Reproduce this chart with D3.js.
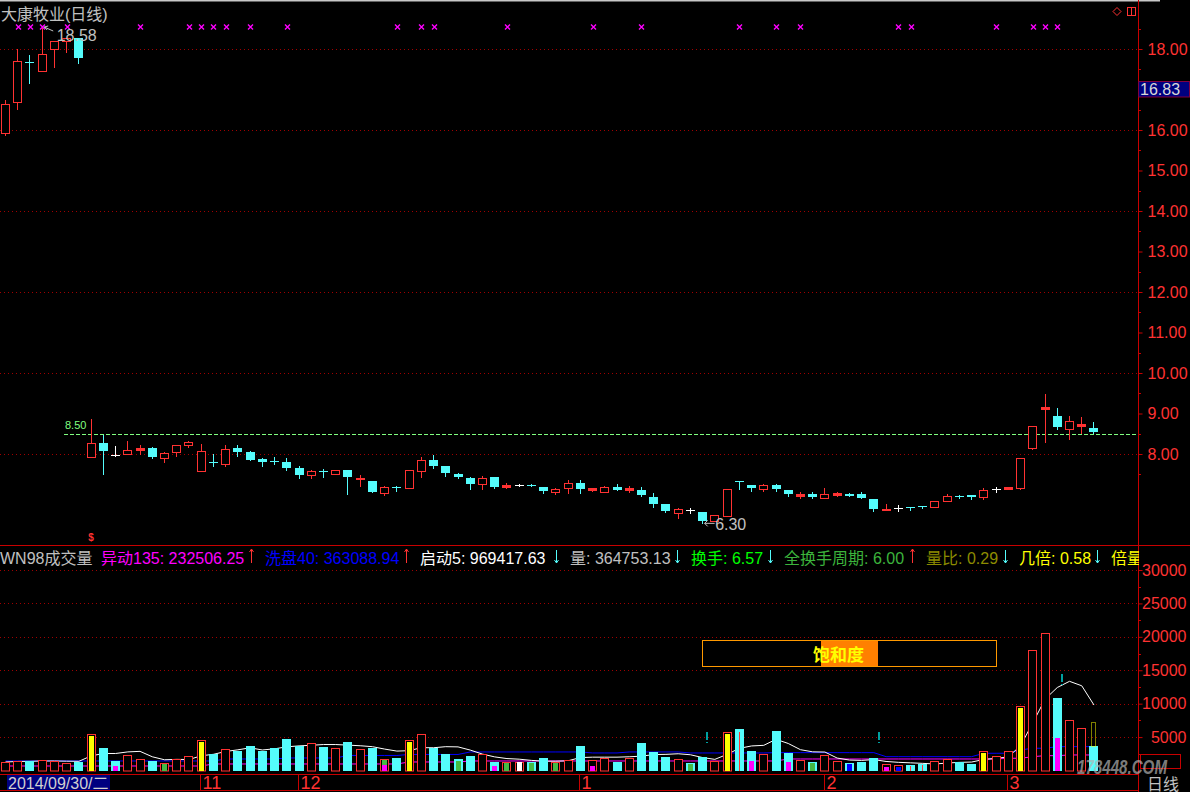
<!DOCTYPE html>
<html><head><meta charset="utf-8">
<script src="https://cdn.jsdelivr.net/npm/d3@7"></script>
<style>
html,body{margin:0;padding:0;background:#000;}
svg{display:block;}
text{font-family:"Liberation Sans",Arial,"Noto Sans CJK SC",sans-serif;}
</style></head><body>
<svg id="c" width="1190" height="792"></svg>
<script>
// ---------- data ----------
const opens = [15.93,16.68,17.67,17.46,17.99,18.19,18.26,7.93,8.27,7.98, 8.00,8.09,8.15,7.91,8.06,8.21,7.59,7.80,7.76,8.14, 8.05,7.87,7.82,7.80,7.65,7.47,7.57,7.51,7.60,7.38, 7.33,7.04,7.18,7.17,7.59,7.84,7.70,7.51,7.41,7.25, 7.42,7.19,7.23,7.24,7.18,7.07,7.17,7.28,7.11,7.07, 7.18,7.10,7.11,6.94,6.77,6.55,6.61,6.57,6.34,6.48, 7.33,7.23,7.13,7.23,7.10,6.97,7.01,6.92,6.98,7.01, 7.01,6.89,6.62,6.67,6.69,6.72,6.68,6.83,6.97,6.98, 6.93,7.13,7.14,7.17,8.16,9.10,8.94,8.62,8.68,8.64];
const highs = [16.75,17.99,17.85,18.58,18.19,18.26,18.26,8.86,8.48,8.20, 8.32,8.22,8.17,8.06,8.22,8.33,8.25,8.00,8.22,8.22, 8.07,7.90,7.93,7.90,7.70,7.61,7.63,7.60,7.60,7.48, 7.33,7.22,7.22,7.60,7.92,7.97,7.70,7.53,7.44,7.45, 7.42,7.29,7.26,7.26,7.18,7.16,7.36,7.36,7.16,7.21, 7.26,7.20,7.18,7.04,6.77,6.67,6.66,6.57,6.49,7.13, 7.33,7.23,7.26,7.26,7.10,7.06,7.06,7.16,7.06,7.04, 7.06,6.89,6.77,6.73,6.69,6.72,6.83,7.02,7.00,6.98, 7.16,7.19,7.19,7.89,8.68,9.48,9.14,8.94,8.91,8.79];
const lows = [15.88,16.51,17.15,17.46,17.56,17.93,17.66,7.92,7.51,7.96, 8.00,8.00,7.90,7.80,7.96,8.18,7.59,7.71,7.71,7.96, 7.85,7.71,7.76,7.60,7.41,7.41,7.44,7.51,7.01,7.21, 7.06,6.99,7.09,7.17,7.44,7.66,7.46,7.41,7.14,7.14, 7.17,7.17,7.20,7.20,7.04,7.02,7.04,7.04,7.08,7.07, 7.11,7.07,6.96,6.69,6.57,6.43,6.55,6.30,6.34,6.48, 7.14,7.09,7.09,7.08,6.97,6.92,6.92,6.92,6.96,6.97, 6.92,6.60,6.62,6.60,6.62,6.67,6.68,6.83,6.92,6.89, 6.89,7.07,7.14,7.14,8.13,8.30,8.62,8.37,8.52,8.51];
const closes = [16.63,17.70,17.66,17.88,18.19,18.26,17.79,8.26,8.08,7.98, 8.09,8.14,7.93,8.02,8.22,8.30,8.07,7.79,8.12,8.06, 7.85,7.80,7.81,7.65,7.48,7.57,7.56,7.60,7.44,7.40, 7.06,7.19,7.17,7.60,7.84,7.71,7.54,7.43,7.27,7.40, 7.19,7.24,7.23,7.23,7.09,7.14,7.28,7.14,7.16,7.18, 7.11,7.16,7.00,6.77,6.60,6.64,6.61,6.35,6.49,7.13, 7.30,7.17,7.23,7.13,7.02,7.02,6.95,7.01,7.04,6.97, 6.92,6.65,6.65,6.67,6.67,6.70,6.83,6.96,6.96,6.94, 7.11,7.13,7.19,7.89,8.68,9.15,8.67,8.81,8.74,8.54];
const volumes = [1275,1425,1425,1575,1425,1125,1320,5475,3375,1425, 2325,1725,1425,1125,1725,2175,4575,2520,3225,2970, 3675,2970,3375,4725,3675,4125,3525,3375,4275,3225, 3420,1725,1875,4575,5475,3375,2520,1725,2175,2475, 1275,1275,1275,1275,1875,1275,1575,3675,1575,1875, 1275,1875,4125,2775,2025,1725,1125,2025,1425,5775, 6225,2925,2475,5925,2670,1575,1320,2325,1425,1170, 1320,1920,930,780,780,930,1425,1680,1275,1020, 2880,2175,2880,9675,18075,20580,10875,7515,6330,3675];
// r = red hollow, c = cyan, y = yellow (red frame)
const volKinds = ['r','r','c','r','r','r','c','y','c','c', 'r','r','c','r','r','r','y','c','r','c', 'c','c','c','c','c','r','c','r','c','r', 'c','r','c','y','r','c','c','c','c','r', 'c','r','r','c','c','r','r','c','r','r', 'c','r','c','c','c','r','c','c','r','y', 'c','c','r','c','c','r','c','r','r','c', 'c','c','r','r','c','c','r','r','c','c', 'y','r','r','y','r','r','c','r','r','c'];
// inner sub-volume marks: [index, kind, value]  m=magenta g=green b=blue w=white l=red line
const innerMarks = [[9,'m',675],[13,'g',975],[31,'g',1575],[31,'m',825],[37,'g',1425],[40,'m',675],[41,'g',1075],[42,'w',1200],[43,'g',1075],[45,'g',1075],[48,'m',675],[56,'g',975],[60,'l',5775],[61,'m',1425],[64,'m',1320],[66,'g',1170],[69,'b',930],[72,'m',570],[73,'b',570],[74,'l',720],[75,'l',870],[86,'m',4875]];
const maStart5 = [1275,1350,1375,1425,1425,1395,1374,2184,2544,2544, 2784,2865,2055,1605,1665,1635,2205,2424,2844,3093, 3393,3072,3243,3543,3684,3774,3885,3885,3795,3705, 3564,3204,2904,2964,3414,3405,3564,3534,3054,2454, 2034,1785,1695,1515,1395,1395,1455,1935,1995,1995, 1995,2055,2145,2385,2415,2505,2355,1935,1665,2415, 3315,3675,3765,4665,4044,3114,2793,2763,1863,1563, 1512,1632,1353,1224,1146,1068,969,1119,1218,1266, 1656,1806,2046,3726,7137,10677,12417,13344,12675,9795];
const maWash40 = [1425,1425,1425,1425,1425,1425,1425,1425,1425,1425, 1425,1425,1425,1425,1425,1425,1425,1425,1725,1725, 1725,1725,1725,1875,1875,1875,1875,1875,2250,2250, 2250,2250,2250,2400,2400,2400,2400,2400,2775,2775, 2775,2775,2775,2775,2775,2775,2775,2775,2625,2625, 2625,2775,2775,2775,2775,2775,2625,2625,2625,2625, 2625,2625,2625,2670,2670,2670,2670,2670,2670,2670, 2670,2670,2070,2070,2070,2070,2070,2070,2070,2070, 2580,2580,2580,3075,3330,3330,3570,3570,3570,3570];
const maMove135 = [675,675,675,675,675,675,675,675,675,675, 675,675,675,675,675,675,675,975,975,975, 975,975,975,975,975,975,975,975,975,975, 975,975,975,1275,1275,1275,1275,1275,1425,1425, 1425,1425,1425,1425,1425,1425,1425,1425,1425,1425, 1425,1425,1425,1425,1425,1425,1425,1425,1425,1425, 1425,1425,1425,1425,1725,1725,1725,1725,1725,1725, 1725,1725,1725,1725,1725,1725,1725,1725,1725,1725, 1725,1725,1830,1830,2070,2220,2220,2325,2325,2325];
const signalIdx = [1,2,3,5,11,15,16,17,18,20,23,32,34,35,41,48,52,60,63,65,73,74,81,84,85,86];
const priceTicks = [8,9,10,11,12,13,14,15,16,18];
const priceGrid = [8,10,12,14,16,18];
const volTicks = [5000,10000,15000,20000,25000,30000];
const monthStart = [16,24,47,67,82];
const monthLabel = ['11','12','1','2','3'];
const tealMarks = [[57.3,5800],[71.3,5700],[86.3,14500]];
const legendItems = [
  {t:'WN98成交量', c:'#c0c0c0', x:0, a:null},
  {t:'异动135: 232506.25', c:'#ff00ff', x:101, a:'up'},
  {t:'洗盘40: 363088.94', c:'#0000ff', x:265, a:'up'},
  {t:'启动5: 969417.63', c:'#ffffff', x:420, a:'down'},
  {t:'量: 364753.13', c:'#c0c0c0', x:570, a:'down'},
  {t:'换手: 6.57', c:'#00ff00', x:691, a:'down'},
  {t:'全换手周期: 6.00', c:'#3cb43c', x:784, a:'up'},
  {t:'量比: 0.29', c:'#8c8c00', x:926, a:'down'},
  {t:'几倍: 0.58', c:'#ffff00', x:1019, a:'down'},
  {t:'倍量', c:'#ffff00', x:1111, a:null}
];

// ---------- setup ----------
const RED='#ff3232', CYAN='#54fcfc', AXR='#c80000', GRID='#a00000';
const svg = d3.select('#c');
svg.append('rect').attr('width',1190).attr('height',792).attr('fill','#000');
svg.append('rect').attr('x',0).attr('y',0).attr('width',1160).attr('height',1.5).attr('fill','#c8c8c8');

const n = opens.length;
const x = d3.scaleBand().domain(d3.range(n)).range([-0.6, -0.6 + 12.23*n]);
const cx = i => x(i) + x.bandwidth()/2;
const lft = i => Math.round(cx(i) - 4.5);
const y = d3.scaleLinear().domain([8,18]).range([454,49]);
const yv = d3.scaleLinear().domain([0,30000]).range([770.5,570]);

// ---------- price panel ----------
svg.append('g').selectAll('line').data(priceGrid).join('line')
  .attr('x1',0).attr('x2',1138).attr('y1',d=>Math.round(y(d))+0.5).attr('y2',d=>Math.round(y(d))+0.5)
  .attr('stroke',GRID).attr('stroke-dasharray','1,3');

// 8.50 reference
svg.append('line').attr('x1',64).attr('x2',1138).attr('y1',Math.round(y(8.5))+0.5).attr('y2',Math.round(y(8.5))+0.5)
  .attr('stroke','#80ff80').attr('stroke-dasharray','4,2');
svg.append('text').attr('x',65).attr('y',429).attr('fill','#80ff80').attr('font-size',11).text('8.50');

// candles
const cg = svg.append('g');
cg.selectAll('g').data(d3.range(n)).join('g').each(function(i){
  const g = d3.select(this);
  const o=opens[i], c=closes[i], h=highs[i], l=lows[i];
  const L = lft(i), wx = L+4.5;
  const yo=Math.round(y(o)), yc=Math.round(y(c)), yh=Math.round(y(h)), yl=Math.round(y(l));
  if (c>o){
    const top=yc, bot=yo;
    g.append('line').attr('x1',wx).attr('x2',wx).attr('y1',yh).attr('y2',top).attr('stroke',RED);
    g.append('line').attr('x1',wx).attr('x2',wx).attr('y1',bot).attr('y2',yl+1).attr('stroke',RED);
    if (bot-top<=2) g.append('rect').attr('x',L).attr('y',top).attr('width',9).attr('height',Math.max(2,bot-top+1)).attr('fill',RED);
    else g.append('rect').attr('x',L+0.5).attr('y',top+0.5).attr('width',8).attr('height',bot-top).attr('fill','#000').attr('stroke',RED);
  } else if (c<o){
    g.append('line').attr('x1',wx).attr('x2',wx).attr('y1',yh).attr('y2',yl+1).attr('stroke',CYAN);
    g.append('rect').attr('x',L).attr('y',yo).attr('width',9).attr('height',Math.max(1,yc-yo)).attr('fill',CYAN);
  } else {
    g.append('line').attr('x1',wx).attr('x2',wx).attr('y1',yh).attr('y2',yl+1).attr('stroke','#fff');
    g.append('rect').attr('x',L).attr('y',yo).attr('width',9).attr('height',1).attr('fill','#fff');
  }
});

// signal markers
svg.append('g').selectAll('path').data(signalIdx).join('path')
  .attr('d',i=>{const c=Math.round(cx(i))+0.5;return `M${c-2.5},${24.5}L${c+2.5},${29.5}M${c+2.5},${24.5}L${c-2.5},${29.5}`;})
  .attr('stroke','#ff00ff').attr('stroke-width',1.4);

// high / low labels
const hiI = 3, loI = 57;
svg.append('path').attr('d',`M${cx(hiI)+11},${y(highs[hiI])+5.5}L${cx(hiI)+2},${y(highs[hiI])+1.5}M${cx(hiI)+2},${y(highs[hiI])+1.5}l4,-1M${cx(hiI)+2},${y(highs[hiI])+1.5}l3,3`)
  .attr('stroke','#c0c0c0').attr('fill','none');
svg.append('text').attr('x',cx(hiI)+14.5).attr('y',y(highs[hiI])+15).attr('fill','#c0c0c0').attr('font-size',16).text(d3.format('.2f')(highs[hiI]));
svg.append('path').attr('d',`M${cx(loI)+12},${y(lows[loI])+0.5}L${cx(loI)+2},${y(lows[loI])+0.5}l3,-3M${cx(loI)+2},${y(lows[loI])+0.5}l3,3`)
  .attr('stroke','#c0c0c0').attr('fill','none');
svg.append('text').attr('x',cx(loI)+12.5).attr('y',y(lows[loI])+6.8).attr('fill','#c0c0c0').attr('font-size',16).text(d3.format('.2f')(lows[loI]));

// ex-right marker
svg.append('text').attr('x',cx(7)).attr('y',541).attr('text-anchor','middle').attr('fill',RED).attr('font-size',10).attr('font-weight','bold').text('$');

// title
svg.append('text').attr('x',1).attr('y',20).attr('fill','#c0c0c0').attr('font-size',16).text('大康牧业(日线)');

// right axis
svg.append('line').attr('x1',1138.5).attr('x2',1138.5).attr('y1',0).attr('y2',792).attr('stroke',AXR);
const pAx = svg.append('g').attr('transform','translate(1138.5,0)')
  .call(d3.axisRight(y).tickValues(priceTicks).tickFormat(d3.format('.2f')).tickSizeInner(4).tickSizeOuter(0).tickPadding(5));
pAx.select('.domain').remove();
pAx.selectAll('line').attr('stroke',AXR);
pAx.selectAll('text').attr('fill',RED).attr('font-size',16).attr('font-family','"Liberation Sans",Arial,sans-serif');
svg.append('g').selectAll('line').data(d3.range(7.5,18.6,1)).join('line')
  .attr('x1',1138.5).attr('x2',1141).attr('y1',d=>Math.round(y(d))+0.5).attr('y2',d=>Math.round(y(d))+0.5).attr('stroke',AXR);

// current price box
svg.append('rect').attr('x',1138.5).attr('y',81.5).attr('width',51).attr('height',15.5).attr('fill','#000080').attr('stroke','#800040');
svg.append('text').attr('x',1140).attr('y',95).attr('fill','#d8d8d8').attr('font-size',16).text('16.83');

// top-right icons
svg.append('path').attr('d','M1117,7.5L1121,11.5L1117,15.5L1113,11.5Z').attr('fill','none').attr('stroke',RED);
svg.append('rect').attr('x',1127.5).attr('y',7.5).attr('width',8).attr('height',8).attr('fill','none').attr('stroke',RED);
svg.append('line').attr('x1',1131.5).attr('x2',1131.5).attr('y1',7.5).attr('y2',15.5).attr('stroke',RED);

// panel separator
svg.append('line').attr('x1',0).attr('x2',1190).attr('y1',545.5).attr('y2',545.5).attr('stroke',AXR);

// ---------- legend ----------
const lg = svg.append('g');
legendItems.forEach(d=>{
  lg.append('text').attr('x',d.x).attr('y',564).attr('fill',d.c).attr('font-size',16).text(d.t);
});
legendItems.forEach((d,k)=>{
  if(!d.a) return;
  const next = legendItems[k+1];
  const ax = next.x - 13.5;
  const col = d.a==='up'?RED:CYAN;
  if(d.a==='up') lg.append('path').attr('d',`M${ax},549L${ax},563M${ax-2},552L${ax},549L${ax+2},552`).attr('stroke',col).attr('fill','none');
  else lg.append('path').attr('d',`M${ax},550L${ax},563M${ax-2},560L${ax},563L${ax+2},560`).attr('stroke',col).attr('fill','none');
});
svg.append('rect').attr('x',1139).attr('y',546).attr('width',51).attr('height',20).attr('fill','#000');

// ---------- volume panel ----------
svg.append('g').selectAll('line').data(volTicks).join('line')
  .attr('x1',0).attr('x2',1138).attr('y1',d=>Math.round(yv(d))+0.5).attr('y2',d=>Math.round(yv(d))+0.5)
  .attr('stroke',GRID).attr('stroke-dasharray','1,3');

const vAx = svg.append('g').attr('transform','translate(1138.5,0)')
  .call(d3.axisRight(yv).tickValues(volTicks).tickFormat(d3.format('d')).tickSizeInner(4).tickSizeOuter(0).tickPadding(5));
vAx.select('.domain').remove();
vAx.selectAll('line').attr('stroke',AXR);
vAx.selectAll('text').attr('fill',RED).attr('font-size',16).attr('text-anchor','end').attr('x',48).attr('font-family','"Liberation Sans",Arial,sans-serif');
svg.append('g').selectAll('line').data(d3.range(2500,30000,5000)).join('line')
  .attr('x1',1138.5).attr('x2',1141).attr('y1',d=>Math.round(yv(d))+0.5).attr('y2',d=>Math.round(yv(d))+0.5).attr('stroke',AXR);
// cursor value frame (bottom right)
svg.append('rect').attr('x',1140.5).attr('y',754.5).attr('width',40).attr('height',14).attr('fill','none').attr('stroke',AXR);

// MA lines
const lineGen = d3.line().x((d,i)=>cx(i)).y(d=>yv(d));
svg.append('path').datum(maMove135).attr('d',lineGen).attr('fill','none').attr('stroke','#ff00ff');
svg.append('path').datum(maWash40).attr('d',lineGen).attr('fill','none').attr('stroke','#0000ff');
svg.append('path').datum(maStart5).attr('d',lineGen).attr('fill','none').attr('stroke','#ffffff');

// volume bars
const base = Math.round(yv(0));
svg.append('g').selectAll('g').data(d3.range(n)).join('g').each(function(i){
  const g = d3.select(this);
  const L = lft(i), top = Math.round(yv(volumes[i]));
  const k = volKinds[i];
  if (k==='c'){
    g.append('rect').attr('x',L).attr('y',top).attr('width',9).attr('height',base-top).attr('fill',CYAN);
  } else {
    g.append('rect').attr('x',L+0.5).attr('y',top+0.5).attr('width',8).attr('height',base-top-0.5).attr('fill','#000').attr('stroke',RED);
    if (k==='y') g.append('rect').attr('x',L+2).attr('y',top+2).attr('width',5).attr('height',base-top-2).attr('fill','#ffff00');
  }
});
const innerCol = {m:'#ff00ff', g:'#44bb44', b:'#0000ff', w:'#ffffff', l:RED};
svg.append('g').selectAll('rect').data(innerMarks).join('rect')
  .attr('x',d=>d[1]==='l'?lft(d[0])+4:lft(d[0])+2)
  .attr('width',d=>d[1]==='l'?1:5)
  .attr('y',d=>Math.round(yv(d[2])))
  .attr('height',d=>base-Math.round(yv(d[2])))
  .attr('fill',d=>innerCol[d[1]]);

// projected volume (dotted) on last bar
const lastI = n-1;
svg.append('rect').attr('x',lft(lastI)+2.5).attr('y',Math.round(yv(7230))+0.5).attr('width',4).attr('height',Math.round(yv(volumes[lastI]))-Math.round(yv(7230)))
  .attr('fill','none').attr('stroke','#ffff00').attr('stroke-dasharray','1,1');

// teal markers
svg.append('g').selectAll('g').data(tealMarks).join('g').each(function(d){
  const g=d3.select(this); const xx=Math.round(cx(0)+d[0]*12.23); const yy=Math.round(yv(d[1]));
  g.append('rect').attr('x',xx).attr('y',yy).attr('width',2).attr('height',8).attr('fill','#00a0a0');
  g.append('rect').attr('x',xx).attr('y',yy+10).attr('width',2).attr('height',1).attr('fill','#00a0a0');
});

// saturation box
svg.append('rect').attr('x',702.5).attr('y',640.5).attr('width',294).attr('height',26).attr('fill','#000').attr('stroke','#ff9900');
svg.append('rect').attr('x',821).attr('y',641).attr('width',57).attr('height',25).attr('fill','#ff8000');
svg.append('text').attr('x',813).attr('y',661).attr('fill','#ffff00').attr('font-size',17).attr('font-weight','bold').attr('font-family','"Noto Sans CJK SC",sans-serif').text('饱和度');

// ---------- bottom axis ----------
svg.append('line').attr('x1',0).attr('x2',1138).attr('y1',774.5).attr('y2',774.5).attr('stroke',AXR);
svg.append('line').attr('x1',0).attr('x2',1138).attr('y1',790.5).attr('y2',790.5).attr('stroke',AXR);
const mg = svg.append('g');
monthStart.forEach((mi,k)=>{
  const xx = Math.round(cx(mi)-1)+0.5;
  mg.append('line').attr('x1',xx).attr('x2',xx).attr('y1',774).attr('y2',791).attr('stroke',AXR);
  mg.append('text').attr('x',xx+2).attr('y',789).attr('fill',RED).attr('font-size',18).text(monthLabel[k]);
});
svg.append('rect').attr('x',7).attr('y',775).attr('width',103).attr('height',15).attr('fill','#000080');
svg.append('text').attr('x',8).attr('y',789).attr('fill','#d0d0d0').attr('font-size',16).text('2014/09/30/二');
svg.append('text').attr('x',1147).attr('y',790).attr('fill','#c0c0c0').attr('font-size',16).attr('font-family','"Noto Sans CJK SC",sans-serif').text('日线');

// watermark
svg.append('text').attr('x',1077).attr('y',774).attr('fill','#b4b4b4').attr('fill-opacity',0.7).attr('font-size',20).attr('font-weight','bold').attr('font-style','italic')
  .attr('textLength',90).attr('lengthAdjust','spacingAndGlyphs').text('178448.COM');
</script>
</body></html>
